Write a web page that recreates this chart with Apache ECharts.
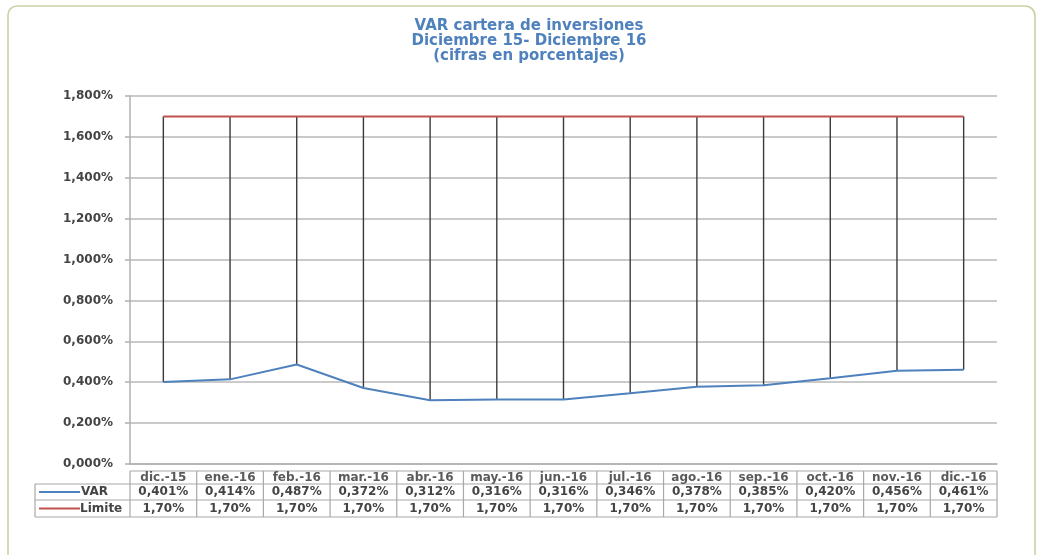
<!DOCTYPE html>
<html><head><meta charset="utf-8">
<script src="https://cdn.jsdelivr.net/npm/echarts@6/dist/echarts.min.js"></script>
<style>html,body{margin:0;padding:0;background:#fff}#c{width:1037px;height:555px}</style>
</head><body><div id="c"></div>
<script>
var categories = ['dic.-15','ene.-16','feb.-16','mar.-16','abr.-16','may.-16','jun.-16','jul.-16','ago.-16','sep.-16','oct.-16','nov.-16','dic.-16'];
var varValues = [0.401,0.414,0.487,0.372,0.312,0.316,0.316,0.346,0.378,0.385,0.420,0.456,0.461];
var limiteValues = [1.70,1.70,1.70,1.70,1.70,1.70,1.70,1.70,1.70,1.70,1.70,1.70,1.70];
var varLabels = ['0,401%','0,414%','0,487%','0,372%','0,312%','0,316%','0,316%','0,346%','0,378%','0,385%','0,420%','0,456%','0,461%'];
var limiteLabels = ['1,70%','1,70%','1,70%','1,70%','1,70%','1,70%','1,70%','1,70%','1,70%','1,70%','1,70%','1,70%','1,70%'];
var titleLines = ['VAR cartera de inversiones','Diciembre 15- Diciembre 16','(cifras en porcentajes)'];

var FONT = 'DejaVu Sans';
var chart = echarts.init(document.getElementById('c'), null, {renderer:'canvas'});
var option = {
  animation:false,
  backgroundColor:'#fff',
  title:{text:titleLines.join('\n'), left:524, top:14, textAlign:'center',
    textStyle:{color:'#4F81BD', fontFamily:FONT, fontSize:15, fontWeight:'bold', lineHeight:15}},
  grid:{left:130, right:40, top:96, bottom:91},
  xAxis:{type:'category', data:categories, boundaryGap:true,
    axisLabel:{show:false}, axisTick:{show:false},
    axisLine:{lineStyle:{color:'#b0b0b0', width:1.5}}},
  yAxis:{type:'value', min:0, max:1.8, interval:0.2,
    axisLabel:{formatter:function(v){return v.toFixed(3).replace('.',',')+'%';}, color:'#444', fontFamily:FONT, fontSize:12, fontWeight:'bold', margin:17},
    axisLine:{show:true, lineStyle:{color:'#b0b0b0', width:1.5}},
    axisTick:{show:true, length:5, lineStyle:{color:'#b0b0b0', width:1.5}},
    splitLine:{lineStyle:{color:'#b8b8b8', width:1.5}}},
  series:[
    {type:'custom', name:'hilo', z:1, silent:true,
     data:categories.map(function(c,i){return [i, varValues[i], limiteValues[i]];}),
     encode:{x:0, y:[1,2]},
     renderItem:function(params, api){
       var p1 = api.coord([api.value(0), api.value(1)]);
       var p2 = api.coord([api.value(0), api.value(2)]);
       return {type:'line', shape:{x1:p1[0], y1:p1[1], x2:p2[0], y2:p2[1]}, style:{stroke:'#3a3a3a', lineWidth:1.4}};
     }},
    {type:'line', name:'VAR', data:varValues, symbol:'none', z:3,
     lineStyle:{color:'#4F81BD', width:2}, itemStyle:{color:'#4F81BD'}},
    {type:'line', name:'Limite', data:limiteValues, symbol:'none', z:3,
     lineStyle:{color:'#C0504D', width:2}, itemStyle:{color:'#C0504D'}}
  ]
};
chart.setOption(option);

function buildTable(){
  var g = [];
  var x0 = chart.convertToPixel({xAxisIndex:0}, 0);
  var x1 = chart.convertToPixel({xAxisIndex:0}, 1);
  var w = x1 - x0;
  var left = x0 - w/2;
  var right = left + w*categories.length;
  var legLeft = 35;
  var yH = 471, yV = 484, yL = 500, yB = 517;
  var bc = '#a8a8a8';
  function ln(a,b,c,d){g.push({type:'line', shape:{x1:a,y1:b,x2:c,y2:d}, style:{stroke:bc, lineWidth:1.2}});}
  function tx(t,x,y,al,col){g.push({type:'text', x:x, y:y, style:{text:t, fill:col||'#444', font:'bold 12px "'+FONT+'"', align:al||'center', verticalAlign:'middle'}});}
  ln(left,yH,right,yH);
  ln(legLeft,yV,right,yV);
  ln(legLeft,yL,right,yL);
  ln(legLeft,yB,right,yB);
  ln(legLeft,yV,legLeft,yB);
  for (var i=0;i<=categories.length;i++){ ln(left+i*w, yH, left+i*w, yB); }
  for (var j=0;j<categories.length;j++){
    var cx = chart.convertToPixel({xAxisIndex:0}, j);
    tx(categories[j], cx, (yH+yV)/2+0.5, 'center', '#5a5a5a');
    tx(varLabels[j], cx, (yV+yL)/2);
    tx(limiteLabels[j], cx, (yL+yB)/2);
  }
  g.push({type:'line', shape:{x1:39,y1:(yV+yL)/2,x2:80,y2:(yV+yL)/2}, style:{stroke:'#4F81BD', lineWidth:2}});
  g.push({type:'line', shape:{x1:39,y1:(yL+yB)/2,x2:80,y2:(yL+yB)/2}, style:{stroke:'#C0504D', lineWidth:2}});
  tx('VAR', 81, (yV+yL)/2, 'left');
  tx('Limite', 80, (yL+yB)/2, 'left');
  g.push({type:'rect', z:-10, shape:{x:8, y:6, width:1027, height:600, r:[9,10,0,0]}, style:{fill:'none', stroke:'#c9d1a6', lineWidth:1.6}});
  chart.setOption({graphic:g});
}
buildTable();
</script></body></html>
